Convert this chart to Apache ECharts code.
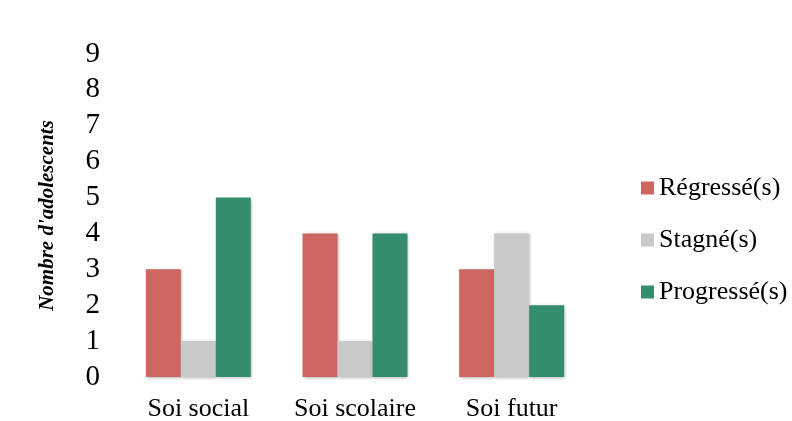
<!DOCTYPE html>
<html>
<head>
<meta charset="utf-8">
<script src="https://cdn.jsdelivr.net/npm/echarts@6/dist/echarts.min.js"></script>
<style>
  html, body { margin: 0; padding: 0; background: #fff; }
  #myChart { width: 792px; height: 421px; }
</style>
</head>
<body>
<div id="myChart"></div>
<script>
// données
var categories = ['Soi social', 'Soi scolaire', 'Soi futur']
var seriesNames = ['Régressé(s)', 'Stagné(s)', 'Progressé(s)']
var regresse = [3, 4, 3]
var stagne = [1, 1, 4]
var progresse = [5, 4, 2]
var colors = ['#CD6660', '#C9C9C9', '#358E6B']

var serif = '"Liberation Serif", "DejaVu Serif", serif'

function makeSeries(name, values, color) {
  return {
    name: name,
    type: 'bar',
    data: values,
    barGap: '0%',
    barCategoryGap: '33%',
    itemStyle: {
      color: color,
      shadowColor: 'rgba(0,0,0,0.3)',
      shadowBlur: 3,
      shadowOffsetX: 1,
      shadowOffsetY: 1
    }
  }
}

var myChart = echarts.init(document.getElementById('myChart'))
myChart.setOption({
  animation: false,
  grid: { left: 120, right: 202, top: 54, bottom: 44, outerBoundsMode: 'none' },
  legend: {
    orient: 'vertical',
    left: 636,
    top: 170,
    itemWidth: 13,
    itemHeight: 13,
    itemGap: 26,
    icon: 'rect',
    textStyle: { fontFamily: serif, fontSize: 26, color: '#000' },
    data: seriesNames
  },
  xAxis: {
    type: 'category',
    data: categories,
    axisLine: { show: false },
    axisTick: { show: false },
    axisLabel: { fontFamily: serif, fontSize: 26, color: '#000', margin: 19, interval: 0 }
  },
  yAxis: {
    type: 'value',
    min: 0,
    max: 9,
    interval: 1,
    splitLine: { show: false },
    axisLine: { show: false },
    axisTick: { show: false },
    axisLabel: { fontFamily: serif, fontSize: 29, color: '#000', margin: 20 },
    name: "Nombre d'adolescents",
    nameLocation: 'middle',
    nameRotate: 90,
    nameGap: 62,
    nameTextStyle: { fontFamily: serif, fontSize: 21, fontStyle: 'italic', fontWeight: 'bold', color: '#000' }
  },
  series: [
    makeSeries(seriesNames[0], regresse, colors[0]),
    makeSeries(seriesNames[1], stagne, colors[1]),
    makeSeries(seriesNames[2], progresse, colors[2])
  ]
})
</script>
</body>
</html>
